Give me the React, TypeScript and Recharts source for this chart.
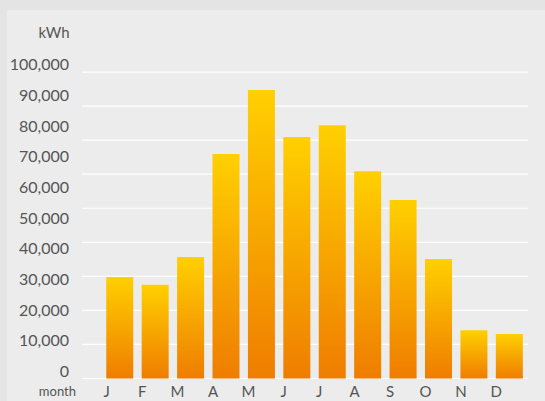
import { BarChart, Bar, XAxis, YAxis, CartesianGrid } from "recharts";

const MONTHS = ["J", "F", "M", "A", "M", "J", "J", "A", "S", "O", "N", "D"];
const KWH = [29800, 27500, 35700, 65900, 84700, 70900, 74400, 60900, 52400, 35100, 14200, 13100];
const GRID_TICKS = [0, 10000, 20000, 30000, 40000, 50000, 60000, 70000, 80000, 90000];
const LABEL_TICKS = [0, 10000, 20000, 30000, 40000, 50000, 60000, 70000, 80000, 90000, 100000];

const data = MONTHS.map((m, i) => ({ key: i, month: m, kwh: KWH[i] }));

const FONT = "Lato, 'Open Sans', sans-serif";
const TEXT = "#555555";

function MonthTick({ x, y, payload }: { x: number; y: number; payload: { value: number } }) {
  return (
    <text
      x={x - 13}
      y={y}
      dy="0.71em"
      textAnchor="middle"
      fill={TEXT}
      fontSize={15}
      fontFamily={FONT}
    >
      {MONTHS[payload.value]}
    </text>
  );
}

export default function App() {
  return (
    <div style={{ position: "relative", width: 545, height: 401, background: "#e4e4e4", overflow: "hidden" }}>
      <style>{"body{margin:0}"}</style>
      <div style={{ position: "absolute", left: 7, top: 10, right: 0, bottom: 0, background: "#ececec" }} />
      <div style={{ position: "absolute", left: 0, top: 0 }}>
        <BarChart
          width={545}
          height={401}
          data={data}
          margin={{ top: 38, right: 17, bottom: 0, left: 26 }}
          barCategoryGap="12%"
        >
          <defs>
            <linearGradient id="barFill" x1="0" y1="0" x2="0" y2="1">
              <stop offset="0%" stopColor="#ffd000" />
              <stop offset="100%" stopColor="#ef7d00" />
            </linearGradient>
          </defs>
          <CartesianGrid yAxisId="bars" vertical={false} syncWithTicks stroke="#ffffff" strokeWidth={1.2} />
          <XAxis
            dataKey="key"
            type="category"
            height={22.5}
            axisLine={false}
            tickLine={false}
            padding={{ left: 20, right: 1 }}
            tick={MonthTick}
            interval={0}
            label={{ value: "month", position: "left", offset: 6, dy: 2, fill: TEXT, fontSize: 13, fontFamily: FONT }}
          />
          <YAxis
            yAxisId="labels"
            width={56}
            domain={[-2280, 108632]}
            allowDataOverflow
            ticks={LABEL_TICKS}
            interval={0}
            axisLine={false}
            tickLine={false}
            tickSize={0}
            tickMargin={13}
            tickFormatter={(v: number) => v.toLocaleString("en-US")}
            tick={{ fill: TEXT, fontSize: 16, fontFamily: FONT }}
            label={{ value: "kWh", position: "top", offset: 0, fill: TEXT, fontSize: 15, fontFamily: FONT }}
          />
          <YAxis yAxisId="bars" hide width={0} domain={[0, 100000]} ticks={GRID_TICKS} interval={0} />
          <Bar yAxisId="bars" dataKey="kwh" fill="url(#barFill)" isAnimationActive={false} />
        </BarChart>
      </div>
    </div>
  );
}
